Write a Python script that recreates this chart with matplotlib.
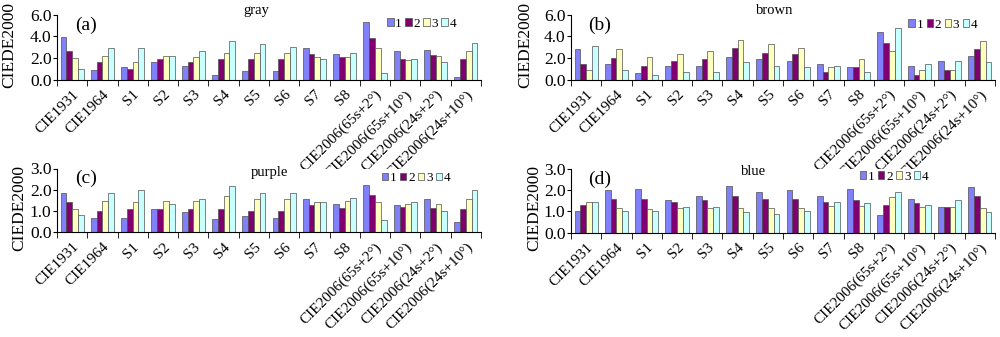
import numpy as np
import matplotlib
matplotlib.use("Agg")
import matplotlib.pyplot as plt

plt.rcParams['font.family'] = ['Liberation Serif', 'DejaVu Serif']

# categories on the x axis
models = ["CIE1931", "CIE1964", "S1", "S2", "S3", "S4", "S5", "S6", "S7", "S8",
          "CIE2006(65s+2°)", "CIE2006(65s+10°)", "CIE2006(24s+2°)", "CIE2006(24s+10°)"]
series_names = ["1", "2", "3", "4"]

# gray samples, one list per series
gray_1 = [3.95, 0.85, 1.15, 1.6, 1.3, 0.45, 0.75, 0.75, 2.9, 2.35, 5.3, 2.6, 2.75, 0.25]
gray_2 = [2.6, 1.6, 1.0, 1.9, 1.6, 1.9, 1.9, 1.9, 2.35, 2.05, 3.85, 1.9, 2.3, 1.9]
gray_3 = [2.0, 2.2, 1.6, 2.2, 2.05, 2.5, 2.5, 2.5, 2.05, 2.05, 2.95, 1.8, 2.15, 2.65]
gray_4 = [1.0, 2.9, 2.9, 2.2, 2.65, 3.55, 3.25, 3.05, 1.9, 2.45, 0.6, 1.9, 1.6, 3.4]

# brown samples
brown_1 = [2.8, 1.45, 0.6, 1.3, 1.3, 2.05, 1.9, 1.75, 1.45, 1.15, 4.45, 1.3, 1.75, 2.2]
brown_2 = [1.45, 2.0, 1.3, 1.75, 1.9, 2.95, 2.5, 2.35, 0.7, 1.15, 3.4, 0.45, 0.9, 2.8]
brown_3 = [0.9, 2.8, 2.05, 2.35, 2.65, 3.7, 3.25, 2.95, 1.15, 1.9, 2.65, 0.9, 0.9, 3.55]
brown_4 = [3.1, 0.9, 0.45, 0.7, 0.7, 1.6, 1.3, 1.15, 1.3, 0.7, 4.75, 1.45, 1.75, 1.6]

# purple samples
purple_1 = [1.85, 0.65, 0.65, 1.1, 0.95, 0.6, 0.75, 0.65, 1.55, 1.3, 2.2, 1.25, 1.55, 0.45]
purple_2 = [1.4, 1.0, 1.1, 1.1, 1.1, 1.1, 1.0, 1.0, 1.25, 1.15, 1.75, 1.2, 1.15, 1.1]
purple_3 = [1.1, 1.45, 1.4, 1.45, 1.45, 1.7, 1.55, 1.55, 1.4, 1.45, 1.4, 1.3, 1.3, 1.55]
purple_4 = [0.8, 1.85, 2.0, 1.3, 1.55, 2.15, 1.85, 1.85, 1.4, 1.6, 0.55, 1.4, 1.0, 2.0]

# blue samples
blue_1 = [1.0, 2.0, 2.05, 1.55, 1.75, 2.2, 1.9, 2.0, 1.75, 2.05, 0.85, 1.6, 1.2, 2.15]
blue_2 = [1.3, 1.6, 1.6, 1.45, 1.55, 1.75, 1.6, 1.6, 1.45, 1.55, 1.3, 1.4, 1.2, 1.75]
blue_3 = [1.45, 1.15, 1.1, 1.15, 1.15, 1.15, 1.15, 1.15, 1.25, 1.25, 1.7, 1.2, 1.2, 1.15]
blue_4 = [1.45, 1.0, 1.0, 1.2, 1.2, 0.95, 0.9, 1.0, 1.45, 1.4, 1.9, 1.3, 1.55, 0.95]

colors = ["#8080F8", "#800070", "#FFFFC0", "#C8FFFF"]

panels = [
    ("(a)", "gray", [gray_1, gray_2, gray_3, gray_4], 6.0, 2.0),
    ("(b)", "brown", [brown_1, brown_2, brown_3, brown_4], 6.0, 2.0),
    ("(c)", "purple", [purple_1, purple_2, purple_3, purple_4], 3.0, 1.0),
    ("(d)", "blue", [blue_1, blue_2, blue_3, blue_4], 3.0, 1.0),
]

# axes rectangles [left, bottom, width, height] in figure fraction
boxes = [
    [0.057, 0.764, 0.424, 0.192],
    [0.571, 0.764, 0.424, 0.192],
    [0.057, 0.312, 0.424, 0.188],
    [0.571, 0.310, 0.424, 0.188],
]
title_pos = [(0.47, 1.06), (0.48, 1.06), (0.50, 0.93), (0.43, 0.97)]
legend_pos = [(0.86, 0.86), (0.877, 0.845), (0.847, 0.85), (0.762, 0.88)]
ylabel_pos = [(-0.093, 0.54), (-0.09, 0.53), (-0.071, 0.37), (-0.068, 0.39)]

fig = plt.figure(figsize=(10, 3.37), dpi=100)
x = np.arange(len(models))
w = 0.19

for (tag, name, series, ymax, step), box, tp, lp, lpos in zip(panels, boxes, title_pos, legend_pos, ylabel_pos):
    ax = fig.add_axes(box)
    for i, vals in enumerate(series):
        ax.bar(x + (i - 1.5) * w, vals, width=w, color=colors[i],
               edgecolor="#505050", linewidth=0.5, label=series_names[i])
    ax.set_xlim(-0.5, len(models) - 0.5)
    ax.set_ylim(0, ymax)
    ax.set_yticks(np.arange(0, ymax + 0.01, step))
    ax.set_yticklabels(["%.1f" % v for v in np.arange(0, ymax + 0.01, step)], fontsize=12.5)
    ax.set_xticks(x)
    ax.set_xticklabels(models, rotation=45, ha="right", va="top",
                       rotation_mode="anchor", fontsize=11)
    ax.set_xticks(np.arange(-0.5, len(models), 1), minor=True)
    ax.tick_params(axis="x", which="major", length=0, pad=6)
    ax.tick_params(axis="x", which="minor", length=4, direction="out")
    ax.tick_params(axis="y", length=3, direction="out", pad=1)
    ax.spines["top"].set_visible(False)
    ax.spines["right"].set_visible(False)
    ax.set_ylabel("CIEDE2000", fontsize=12.5)
    ax.yaxis.set_label_coords(lpos[0], lpos[1])
    ax.text(0.068, 0.84, tag, transform=ax.transAxes, fontsize=14,
            ha="center", va="center")
    ax.text(tp[0], tp[1], name, transform=ax.transAxes, fontsize=10.5,
            ha="center", va="center")
    ax.legend(loc="center", bbox_to_anchor=lp, ncol=4, frameon=False,
              fontsize=9.5, handlelength=0.5, handleheight=0.5,
              handletextpad=0.12, columnspacing=0.25, borderpad=0)

fig.savefig("out.png", dpi=100)
